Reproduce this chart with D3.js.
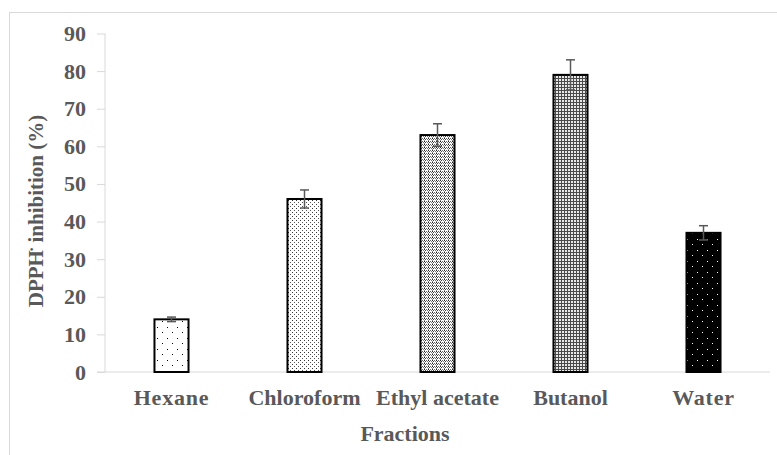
<!DOCTYPE html>
<html>
<head>
<meta charset="utf-8">
<script src="https://cdn.jsdelivr.net/npm/d3@7"></script>
<style>
  html, body { margin: 0; padding: 0; background: #fff; }
  svg { display: block; }
  text { font-family: "Liberation Serif", "Times New Roman", serif; font-weight: bold; fill: #595959; }
</style>
</head>
<body>
<svg id="chart" width="777" height="455"></svg>
<script>
const categories = ["Hexane", "Chloroform", "Ethyl acetate", "Butanol", "Water"];
const values = [14, 46, 63, 79, 37];
const errors = [0.6, 2.4, 3.0, 4.0, 1.9];
const yTicks = [0, 10, 20, 30, 40, 50, 60, 70, 80, 90];
const patternIds = ["pHex", "pChl", "pEth", "pBut", "pWat"];
const xTitle = "Fractions";

const svg = d3.select("#chart");
const defs = svg.append("defs");

function pattern(id, size, bg, dots) {
  const p = defs.append("pattern").attr("id", id)
    .attr("patternUnits", "userSpaceOnUse")
    .attr("width", size[0]).attr("height", size[1]);
  p.append("rect").attr("width", size[0]).attr("height", size[1]).attr("fill", bg)
    .attr("shape-rendering", "crispEdges");
  dots.forEach(d => p.append("rect").attr("x", d[0]).attr("y", d[1])
    .attr("width", d[2] || 1).attr("height", d[3] || 1).attr("fill", d[4] || "#000")
    .attr("shape-rendering", "crispEdges"));
}
// Hexane: sparse black dots
pattern("pHex", [10, 11], "#fff", [[2, 2], [7, 7.5]]);
// Chloroform: denser dots
pattern("pChl", [4, 4], "#fff", [[0, 0, 1, 1, "#333"], [2, 2, 1, 1, "#555"]]);
// Ethyl acetate: dense vertical-ish dots
pattern("pEth", [4, 3], "#fff", [[0, 0, 1, 1, "#222"], [2, 0, 1, 1, "#666"], [0, 2, 1, 1, "#888"], [1, 1, 1, 1, "#444"], [3, 1, 1, 1, "#777"]]);
// Butanol: darker gray grid
pattern("pBut", [3, 3], "#4a4a4a", [[1, 1, 2, 2, "#e8e8e8"]]);
// Water: black with white dots
pattern("pWat", [10, 11], "#000", [[2, 2, 1, 1, "#fff"], [7, 7.5, 1, 1, "#fff"]]);

// outer chart frame
svg.append("rect").attr("x", 9.5).attr("y", 12.5).attr("width", 800).attr("height", 500)
  .attr("fill", "none").attr("stroke", "#d9d9d9").attr("stroke-width", 1);

const x = d3.scaleBand().domain(categories).range([105, 770])
  .paddingInner(0.744).paddingOuter(0.372);
const y = d3.scaleLinear().domain([0, 90]).range([372, 33.5]);

// y axis
const yAxis = svg.append("g").attr("transform", "translate(105,0)")
  .call(d3.axisLeft(y).tickValues(yTicks).tickSize(8).tickPadding(11).tickFormat(d3.format("d")));
yAxis.select(".domain").attr("stroke", "#d9d9d9").attr("d", `M0,${y(90)}V${y(0)}`);
yAxis.selectAll(".tick line").attr("stroke", "#d9d9d9");
yAxis.selectAll(".tick text").attr("font-size", 22).attr("fill", "#595959")
  .style("font-family", '"Liberation Serif", serif').style("font-weight", "bold");

// x axis line
const xAxis = svg.append("g").attr("transform", `translate(0,${y(0)})`)
  .call(d3.axisBottom(x).tickSize(0).tickPadding(17));
xAxis.select(".domain").attr("stroke", "#d9d9d9").attr("d", "M97,0H770");
xAxis.selectAll(".tick text").attr("font-size", 22).attr("fill", "#595959")
  .style("font-family", '"Liberation Serif", serif').style("font-weight", "bold");
xAxis.selectAll(".tick").filter(d => d === "Hexane" || d === "Water").select("text").attr("letter-spacing", 0.8);

// bars
const data = categories.map((c, i) => ({ c, v: values[i], e: errors[i], p: patternIds[i] }));
svg.append("g").selectAll("rect").data(data).join("rect")
  .attr("x", d => x(d.c)).attr("width", x.bandwidth())
  .attr("y", d => y(d.v)).attr("height", d => y(0) - y(d.v))
  .attr("fill", d => `url(#${d.p})`)
  .attr("stroke", "#000").attr("stroke-width", 2);

// error bars
const eg = svg.append("g").attr("stroke", "#595959").attr("stroke-width", 1.5).attr("fill", "none");
data.forEach(d => {
  const cx = x(d.c) + x.bandwidth() / 2;
  eg.append("line").attr("x1", cx).attr("x2", cx).attr("y1", y(d.v + d.e)).attr("y2", y(d.v - d.e));
  eg.append("line").attr("x1", cx - 4.5).attr("x2", cx + 4.5).attr("y1", y(d.v + d.e)).attr("y2", y(d.v + d.e));
  eg.append("line").attr("x1", cx - 4.5).attr("x2", cx + 4.5).attr("y1", y(d.v - d.e)).attr("y2", y(d.v - d.e));
});

// axis titles
svg.append("text").attr("x", 405).attr("y", 441).attr("text-anchor", "middle")
  .attr("font-size", 22).text(xTitle);

const yt = svg.append("text").attr("transform", "translate(43,211) rotate(-90)")
  .attr("text-anchor", "middle").attr("font-size", 21);
yt.append("tspan").text("DPPH");
yt.append("tspan").attr("dx", -2).attr("dy", -6).attr("font-size", 16).text("·");
yt.append("tspan").attr("dx", -1).attr("dy", 6).text(" inhibition (%)");
</script>
</body>
</html>
